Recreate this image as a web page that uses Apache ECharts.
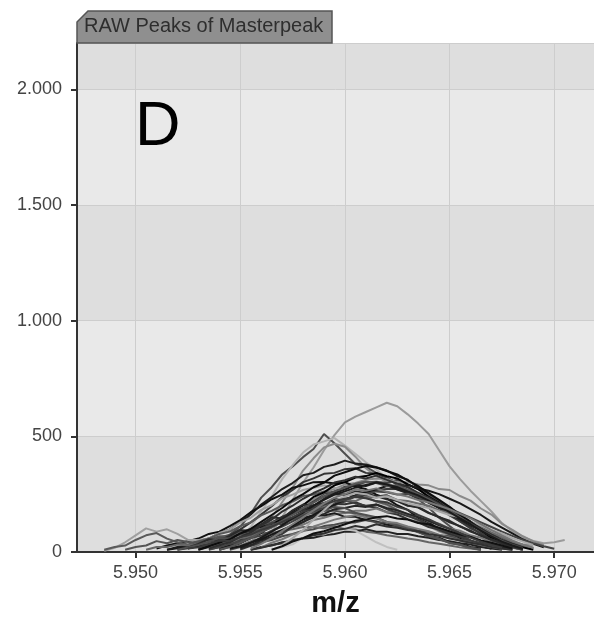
<!DOCTYPE html>
<html>
<head>
<meta charset="utf-8">
<script src="https://cdn.jsdelivr.net/npm/echarts@6/dist/echarts.min.js"></script>
<style>
	html, body { margin: 0; padding: 0; background: #fff; }
	#chart { width: 594px; height: 617px; }
</style>
</head>
<body>
<div id="chart"></div>
<script>
// m/z grid shared by all raw peaks (5.9485 .. 5.9705, step 0.0005)
var mz = [5.9485, 5.9490, 5.9495, 5.9500, 5.9505, 5.9510, 5.9515, 5.9520, 5.9525, 5.9530,
	5.9535, 5.9540, 5.9545, 5.9550, 5.9555, 5.9560, 5.9565, 5.9570, 5.9575, 5.9580,
	5.9585, 5.9590, 5.9595, 5.9600, 5.9605, 5.9610, 5.9615, 5.9620, 5.9625, 5.9630,
	5.9635, 5.9640, 5.9645, 5.9650, 5.9655, 5.9660, 5.9665, 5.9670, 5.9675, 5.9680,
	5.9685, 5.9690, 5.9695, 5.9700, 5.9705];

// index into mz where each raw peak starts
var peakStart = [15, 10, 12, 14, 6, 8, 10, 12, 5, 0, 0, 9, 7, 11, 6, 12, 4, 14, 16, 13, 2, 11,
	8, 9, 11, 10, 13, 7, 12, 15, 14, 10, 17, 16, 9, 10, 11, 13, 8, 14];

// intensities of each raw peak
var peaks = [
	[40, 85, 150, 225, 300, 365, 440, 505, 560, 585, 605, 625, 645, 630, 595, 555, 510, 440, 370, 315, 265, 220, 175, 125, 90, 65, 48, 38, 42, 52],
	[40, 62, 75, 110, 165, 235, 280, 335, 370, 410, 445, 510, 470, 425, 380, 368, 342, 322, 290, 265, 228, 192, 148, 112, 78, 50, 30, 15],
	[30, 62, 108, 175, 240, 315, 375, 430, 465, 478, 492, 460, 425, 388, 356, 318, 302, 278, 258, 228, 202, 168, 142, 108, 86, 58, 40, 25],
	[40, 92, 148, 215, 278, 352, 405, 452, 468, 455, 412, 362, 328, 302, 272, 252, 238, 226, 198, 182, 148, 122, 93, 72, 54, 41, 34, 30],
	[10, 22, 28, 48, 58, 82, 98, 132, 162, 205, 238, 272, 298, 332, 342, 368, 378, 395, 382, 378, 366, 352, 328, 312, 278, 252, 218, 192, 158, 132, 98, 76, 48, 30, 15],
	[15, 26, 38, 58, 72, 98, 128, 162, 198, 238, 268, 302, 318, 338, 342, 358, 362, 342, 338, 322, 298, 282, 252, 228, 198, 168, 132, 108, 78, 56, 35, 20],
	[10, 22, 33, 52, 68, 98, 118, 152, 172, 203, 222, 252, 262, 282, 288, 302, 304, 298, 312, 292, 272, 242, 222, 188, 162, 128, 106, 78, 62, 38, 26, 15],
	[20, 42, 58, 88, 108, 142, 168, 202, 228, 258, 272, 292, 298, 312, 318, 316, 302, 302, 292, 288, 272, 268, 242, 222, 188, 162, 122, 96, 68, 46, 30],
	[15, 28, 38, 47, 58, 78, 88, 112, 138, 172, 198, 228, 248, 278, 288, 302, 303, 296, 302, 282, 272, 248, 232, 202, 182, 148, 128, 98, 82, 58, 42, 25, 15],
	[5, 18, 42, 72, 102, 88, 98, 78, 52, 52, 58, 82, 98, 128, 148, 182, 202, 232, 248, 268, 278, 288, 278, 272, 252, 242, 218, 202, 178, 162, 132, 112, 88, 72, 48, 36, 20],
	[10, 22, 28, 52, 72, 82, 58, 42, 33, 47, 58, 78, 88, 112, 128, 158, 178, 202, 218, 242, 248, 262, 252, 252, 238, 236, 218, 206, 182, 162, 138, 116, 92, 76, 52, 42, 25, 15],
	[10, 22, 28, 47, 58, 82, 98, 122, 138, 168, 182, 202, 212, 228, 228, 242, 242, 242, 228, 222, 202, 192, 168, 152, 128, 112, 88, 72, 48, 36, 20, 10],
	[10, 16, 26, 33, 47, 58, 78, 92, 112, 128, 152, 162, 182, 192, 202, 208, 206, 215, 198, 192, 172, 162, 142, 128, 108, 97, 78, 66, 48, 37, 22, 15],
	[10, 22, 28, 47, 58, 78, 88, 108, 118, 138, 148, 162, 168, 178, 178, 188, 172, 172, 158, 152, 132, 122, 102, 92, 72, 62, 42, 32, 18, 10],
	[10, 16, 22, 28, 42, 48, 68, 78, 98, 108, 122, 132, 148, 148, 158, 158, 168, 152, 152, 138, 132, 118, 112, 98, 88, 68, 62, 42, 37, 22, 15],
	[10, 22, 28, 42, 52, 68, 78, 92, 98, 112, 118, 128, 128, 138, 128, 128, 112, 108, 92, 88, 72, 68, 52, 48, 32, 26, 15, 10],
	[10, 22, 22, 32, 28, 37, 38, 48, 48, 62, 68, 82, 82, 92, 98, 108, 108, 103, 112, 98, 97, 88, 82, 72, 66, 58, 52, 42, 36, 28, 20, 15, 10],
	[10, 22, 28, 42, 48, 58, 62, 72, 78, 88, 88, 98, 88, 88, 78, 78, 68, 62, 52, 47, 38, 32, 22, 15, 10],
	[10, 22, 33, 62, 78, 76, 92, 98, 92, 68, 42, 22, 10],
	[10, 27, 38, 62, 78, 108, 128, 158, 178, 202, 218, 242, 252, 268, 272, 272, 258, 242, 212, 192, 158, 132, 102, 82, 52, 37, 20, 10],
	[10, 22, 28, 47, 38, 52, 43, 42, 52, 68, 68, 88, 98, 118, 128, 142, 148, 162, 168, 178, 178, 172, 168, 152, 148, 128, 118, 98, 88, 68, 58, 38, 32, 18, 10],
	[15, 27, 38, 62, 82, 118, 142, 178, 202, 238, 258, 288, 302, 322, 328, 342, 328, 318, 292, 272, 238, 212, 178, 152, 118, 92, 62, 47, 28, 20, 10],
	[20, 35, 55, 50, 70, 95, 90, 120, 150, 145, 180, 205, 200, 230, 250, 245, 262, 255, 240, 245, 220, 200, 195, 170, 150, 135, 110, 92, 70, 55, 38, 25, 15],
	[15, 30, 45, 60, 55, 80, 100, 125, 120, 150, 170, 195, 210, 205, 225, 210, 200, 205, 185, 170, 155, 140, 120, 100, 85, 70, 50, 38, 25, 12],
	[10, 25, 40, 60, 85, 110, 140, 170, 190, 215, 240, 255, 270, 290, 285, 300, 290, 270, 255, 230, 215, 190, 165, 140, 115, 95, 70, 50, 35, 20],
	[20, 35, 40, 60, 65, 90, 105, 130, 145, 170, 175, 200, 210, 225, 220, 240, 235, 245, 225, 220, 210, 200, 180, 170, 150, 130, 110, 85, 65, 45, 30, 18],
	[15, 30, 50, 65, 90, 110, 130, 150, 165, 185, 190, 200, 195, 205, 190, 180, 165, 150, 135, 115, 100, 80, 65, 48, 35, 22, 12],
	[10, 20, 30, 45, 60, 58, 75, 80, 100, 115, 130, 140, 160, 175, 180, 195, 190, 170, 160, 150, 130, 120, 100, 85, 70, 55, 40, 30, 18, 10],
	[15, 25, 40, 55, 75, 95, 115, 140, 160, 185, 205, 225, 245, 260, 270, 285, 280, 290, 275, 265, 250, 230, 210, 185, 160, 130, 105, 80, 55, 35, 20],
	[20, 40, 55, 75, 90, 110, 125, 140, 150, 160, 150, 145, 130, 125, 110, 100, 90, 75, 62, 50, 40, 30, 22, 15],
	[10, 18, 30, 38, 52, 60, 72, 80, 95, 100, 112, 105, 120, 110, 105, 95, 90, 78, 70, 58, 50, 40, 32, 22, 15, 10],
	[12, 20, 35, 45, 62, 70, 92, 110, 132, 155, 178, 190, 215, 225, 240, 250, 262, 258, 248, 252, 236, 222, 205, 188, 168, 148, 128, 108, 88, 70, 52, 38, 25, 14],
	[30, 60, 95, 140, 180, 220, 240, 255, 250, 235, 240, 225, 210, 200, 190, 175, 160, 150, 130, 115, 95, 80, 60, 45, 30],
	[10, 25, 45, 60, 80, 90, 105, 120, 135, 140, 150, 155, 145, 140, 125, 120, 105, 90, 75, 65, 50, 40, 28, 15],
	[10, 25, 40, 55, 80, 100, 130, 160, 190, 225, 250, 280, 300, 330, 345, 360, 372, 365, 350, 335, 310, 285, 255, 225, 195, 160, 130, 100, 72, 50, 30, 15],
	[15, 30, 42, 65, 85, 115, 140, 175, 200, 230, 255, 275, 300, 310, 325, 318, 330, 312, 295, 280, 255, 235, 210, 180, 150, 125, 100, 75, 52, 35, 20],
	[10, 22, 40, 60, 85, 110, 135, 160, 190, 215, 240, 262, 278, 295, 305, 298, 285, 288, 270, 250, 228, 205, 178, 150, 120, 95, 70, 48, 30, 15],
	[20, 40, 62, 88, 115, 145, 170, 200, 225, 248, 262, 278, 290, 300, 292, 280, 262, 245, 222, 198, 172, 145, 120, 92, 68, 45, 28, 14],
	[15, 20, 35, 50, 48, 65, 75, 95, 110, 130, 150, 175, 185, 205, 220, 230, 238, 232, 220, 215, 195, 182, 160, 142, 120, 100, 82, 62, 45, 30, 18],
	[15, 35, 60, 90, 120, 150, 180, 210, 235, 250, 270, 265, 275, 260, 250, 240, 225, 215, 200, 185, 165, 145, 120, 95, 72, 50, 32, 18]
];

var peakColors = ['#9b9b9b', '#4e4e4e', '#b3b3b3', '#8c8c8c', '#1e1e1e', '#333333', '#444444', '#8a8a8a',
	'#111111', '#a0a0a0', '#5a5a5a', '#2a2a2a', '#333333', '#777777', '#1a1a1a', '#4a4a4a',
	'#666666', '#222222', '#c0c0c0', '#3a3a3a', '#555555', '#000000',
	'#2b2b2b', '#3c3c3c', '#1f1f1f', '#6a6a6a', '#262626', '#505050', '#181818', '#7a7a7a',
	'#303030', '#444444', '#a8a8a8', '#111111', '#0d0d0d', '#2f2f2f', '#555555', '#1a1a1a',
	'#3a3a3a', '#777777'];

var chart = echarts.init(document.getElementById('chart'));

var series = [];
for (var i = 0; i < peaks.length; i++) {
	var pts = [];
	for (var k = 0; k < peaks[i].length; k++) {
		pts.push([mz[peakStart[i] + k], peaks[i][k]]);
	}
	series.push({
		type: 'line',
		data: pts,
		showSymbol: false,
		silent: true,
		lineStyle: { color: peakColors[i], width: 2 }
	});
}

function germanNum(v) {
	if (v >= 1000) {
		var r = String(v % 1000);
		while (r.length < 3) r = '0' + r;
		return Math.floor(v / 1000) + '.' + r;
	}
	return String(v);
}

var option = {
	animation: false,
	backgroundColor: '#ffffff',
	grid: { left: 77, top: 43, right: 0, bottom: 65, outerBoundsMode: 'none', containLabel: false },
	xAxis: {
		type: 'value',
		min: 5.9472,
		max: 5.9719,
		splitNumber: 5,
		minInterval: 0.005,
		maxInterval: 0.005,
		name: 'm/z',
		nameLocation: 'middle',
		nameGap: 37,
		nameTextStyle: { fontFamily: 'Liberation Sans', fontSize: 29, fontWeight: 'bold', color: '#111' },
		axisLine: { lineStyle: { color: '#333', width: 2 } },
		axisTick: { length: 6, lineStyle: { color: '#333', width: 2 } },
		axisLabel: {
			showMinLabel: false, showMaxLabel: false,
			fontFamily: 'Liberation Sans', fontSize: 18, color: '#444', margin: 12,
			formatter: function(v) { return v.toFixed(3); }
		},
		splitLine: { show: true, lineStyle: { color: '#cdcdcd', width: 1 } }
	},
	yAxis: {
		type: 'value',
		min: 0,
		max: 2200,
		interval: 500,
		axisLine: { show: true, lineStyle: { color: '#333', width: 2 } },
		axisTick: { show: true, length: 6, lineStyle: { color: '#333', width: 2 } },
		axisLabel: {
			showMaxLabel: false,
			fontFamily: 'Liberation Sans', fontSize: 18, color: '#444', margin: 15,
			formatter: function(v) { return v % 500 === 0 ? germanNum(v) : ''; }
		},
		splitLine: { show: true, lineStyle: { color: '#cdcdcd', width: 1 } },
		splitArea: { show: true, areaStyle: { color: ['#dedede', '#e9e9e9'] } }
	},
	graphic: [
		{
			type: 'polygon',
			z: 100,
			shape: { points: [[77, 43], [77, 22], [88, 11], [332, 11], [332, 43]] },
			style: { fill: '#8f8f8f', stroke: '#555', lineWidth: 1.5 }
		},
		{
			type: 'text',
			z: 101,
			left: 84,
			top: 16,
			style: { text: 'RAW Peaks of Masterpeak', fill: '#2e2e2e', font: '20px "Liberation Sans"' }
		},
		{
			type: 'text',
			z: 101,
			left: 135,
			top: 96,
			style: { text: 'D', fill: '#000', font: '63px "Liberation Sans"' }
		}
	],
	series: series
};

chart.setOption(option);
</script>
</body>
</html>
